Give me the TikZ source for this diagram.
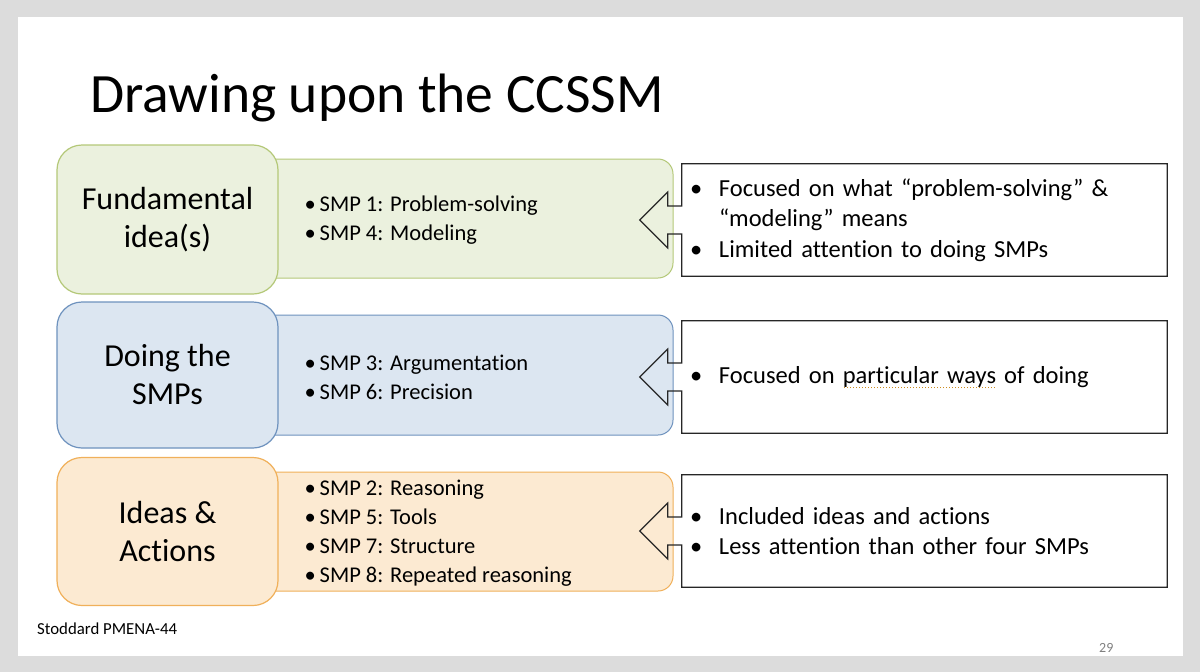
\documentclass[tikz,border=0pt]{standalone}
\usepackage{fontspec}
\setmainfont{Carlito}[RawFeature={-liga}]
\usetikzlibrary{calc}

\definecolor{slidegray}{RGB}{220,220,220}
\definecolor{fundfill}{RGB}{235,241,222}
\definecolor{funddraw}{RGB}{180,200,120}
\definecolor{doingfill}{RGB}{220,230,241}
\definecolor{doingdraw}{RGB}{110,146,190}
\definecolor{ideasfill}{RGB}{252,234,210}
\definecolor{ideasdraw}{RGB}{240,176,90}
\definecolor{spellmark}{RGB}{205,140,30}
\definecolor{pagenum}{RGB}{128,128,128}

% bullet in a box of fixed width
\newcommand{\bul}[1]{\makebox[#1][l]{\textbullet}}
% dotted spell-check line under a word group
\newcommand{\spellline}[1]{\setbox0\hbox{#1}\rlap{\raisebox{-5pt}{\color{spellmark}\hbox to \wd0{\xleaders\hbox to 3pt{\hss\rule{1.5pt}{1.5pt}\hss}\hfill}}}#1}
% left arrow callout drawn round a named node
\newcommand{\callout}[1]{%
\draw[calloutline] (#1.north west) -- (#1.north east) -- (#1.south east) -- (#1.south west)
  -- ($(#1.west)+(0,14)$) -- ++(-14,0) -- ++(0,14) -- ($(#1.west)+(-42,0)$)
  -- ($(#1.west)+(-14,-28)$) -- ++(0,14) -- ++(14,0) -- cycle;}

\begin{document}
\begin{tikzpicture}[x=1pt,y=-1pt,
  labelbox/.style={rounded corners=25pt, line width=1.2pt, minimum width=221pt, align=center,
    font=\fontsize{32}{38}\selectfont},
  listbox/.style={rounded corners=15pt, line width=1pt, minimum width=423pt},
  listtext/.style={anchor=west, inner sep=0pt, yshift=-2pt, align=left, font=\fontsize{22.5}{29}\selectfont},
  callbox/.style={inner xsep=8pt, inner ysep=0pt, text width=469pt, minimum height=112pt, align=left,
    font=\fontsize{24.5}{30.5}\selectfont},
  calloutline/.style={draw=black!85, line width=1.2pt}]
\fill[slidegray] (0,0) rectangle (1200,672);
\fill[white] (18,17) rectangle (1183,656);

\node[anchor=base west, inner sep=0pt, font=\fontsize{55.5}{60}\selectfont] (title) at (90,112) {Drawing upon the CCSSM};

% inner lists
\node[listbox, draw=funddraw, fill=fundfill, minimum height=119pt] (fundlist) at (461.5,218.5) {};
\node[listbox, draw=doingdraw, fill=doingfill, minimum height=120pt] (doinglist) at (461.5,375) {};
\node[listbox, draw=ideasdraw, fill=ideasfill, minimum height=119pt] (ideaslist) at (461.5,531.5) {};
\node[listtext] (fundsmp) at ($(fundlist.west)+(55,0)$) {\bul{15pt}SMP 1: Problem-solving\\\bul{15pt}SMP 4: Modeling};
\node[listtext] (doingsmp) at ($(doinglist.west)+(55,0)$) {\bul{15pt}SMP 3: Argumentation\\\bul{15pt}SMP 6: Precision};
\node[listtext] (ideassmp) at ($(ideaslist.west)+(55,0)$) {\bul{15pt}SMP 2: Reasoning\\\bul{15pt}SMP 5: Tools\\\bul{15pt}SMP 7: Structure\\\bul{15pt}SMP 8: Repeated reasoning};

% left labels
\node[labelbox, draw=funddraw, fill=fundfill, minimum height=149pt] (fund) at (167.5,219.5) {Fundamental\\idea(s)};
\node[labelbox, draw=doingdraw, fill=doingfill, minimum height=146pt] (doing) at (167.5,375) {Doing the\\SMPs};
\node[labelbox, draw=ideasdraw, fill=ideasfill, minimum height=148pt] (ideas) at (167.5,531.5) {Ideas \&\\Actions};

% callouts
\node[callbox] (fundnote) at (924.5,220) {\bul{29pt}Focused on what “problem-solving” \&\\\hspace*{29pt}“modeling” means\\\bul{29pt}Limited attention to doing SMPs};
\node[callbox] (doingnote) at (924.5,377) {\bul{29pt}Focused on \spellline{particular ways} of doing};
\node[callbox] (ideasnote) at (924.5,531) {\bul{29pt}Included ideas and actions\\\bul{29pt}Less attention than other four SMPs};
\callout{fundnote}
\callout{doingnote}
\callout{ideasnote}

\node[anchor=base west, inner sep=0pt, font=\fontsize{16.8}{18}\selectfont] (source) at (37,634) {Stoddard PMENA-44};
\node[anchor=base west, inner sep=0pt, text=pagenum, font=\fontsize{14}{16}\selectfont] (page) at (1099,652) {29};
\end{tikzpicture}
\end{document}
